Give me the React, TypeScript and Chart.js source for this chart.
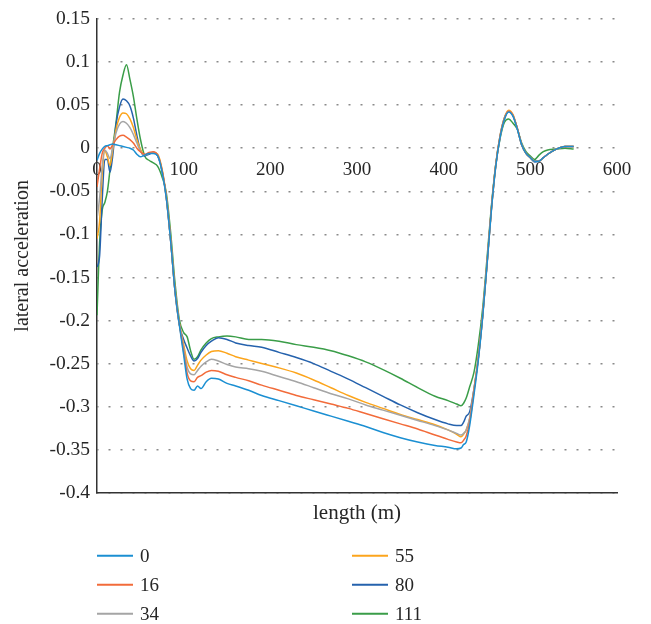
import React, { useEffect, useRef } from "react";
import { Chart, registerables } from "chart.js";

Chart.register(...registerables);

const lengths = [0, 3, 6, 9, 12, 15, 18, 22, 26, 30, 34, 38, 42, 46, 50, 55, 60, 65, 70, 75, 80, 85, 90, 95, 100, 104, 108, 112, 116, 120, 126, 132, 140, 150, 160, 175, 190, 210, 230, 250, 270, 290, 310, 330, 350, 370, 390, 405, 415, 420, 423, 426, 430, 435, 440, 445, 450, 455, 460, 465, 470, 475, 480, 485, 490, 495, 500, 505, 510, 515, 520, 530, 540, 550];

const seriesLabels = ["0", "16", "34", "55", "80", "111"];
const seriesColors = ["#1b8fd2", "#f26b3a", "#a5a5a5", "#fca51c", "#2562ad", "#3a9d48"];

const acc0 = [-0.014, -0.006, -0.001, 0.002, 0.003, 0.004, 0.005, 0.004, 0.003, 0.002, 0.001, 0.0, -0.002, -0.007, -0.010, -0.008, -0.006, -0.006, -0.009, -0.027, -0.058, -0.108, -0.166, -0.205, -0.240, -0.268, -0.279, -0.281, -0.276, -0.279, -0.271, -0.267, -0.268, -0.273, -0.276, -0.281, -0.287, -0.293, -0.299, -0.305, -0.311, -0.317, -0.323, -0.330, -0.336, -0.341, -0.345, -0.347, -0.349, -0.348, -0.344, -0.341, -0.322, -0.286, -0.246, -0.196, -0.136, -0.073, -0.022, 0.012, 0.033, 0.042, 0.037, 0.022, 0.004, -0.006, -0.011, -0.015, -0.015, -0.011, -0.007, -0.001, 0.002, 0.002];

const acc16 = [-0.045, -0.024, -0.006, 0.0, 0.003, -0.001, 0.004, 0.010, 0.014, 0.015, 0.013, 0.010, 0.006, 0.0, -0.004, -0.007, -0.005, -0.004, -0.008, -0.025, -0.057, -0.107, -0.165, -0.204, -0.236, -0.261, -0.270, -0.271, -0.266, -0.264, -0.260, -0.258, -0.259, -0.263, -0.266, -0.270, -0.275, -0.281, -0.287, -0.292, -0.297, -0.302, -0.308, -0.314, -0.320, -0.326, -0.333, -0.338, -0.341, -0.342, -0.339, -0.334, -0.318, -0.282, -0.244, -0.195, -0.135, -0.072, -0.021, 0.013, 0.034, 0.043, 0.038, 0.023, 0.004, -0.006, -0.011, -0.015, -0.015, -0.011, -0.007, -0.001, 0.002, 0.002];

const acc34 = [-0.082, -0.058, -0.020, -0.002, -0.006, -0.012, 0.0, 0.018, 0.028, 0.031, 0.029, 0.024, 0.016, 0.006, -0.003, -0.008, -0.006, -0.005, -0.008, -0.026, -0.057, -0.107, -0.165, -0.204, -0.232, -0.254, -0.262, -0.263, -0.258, -0.253, -0.248, -0.245, -0.247, -0.251, -0.254, -0.256, -0.259, -0.265, -0.271, -0.278, -0.285, -0.291, -0.298, -0.304, -0.310, -0.316, -0.322, -0.327, -0.331, -0.333, -0.331, -0.327, -0.313, -0.280, -0.243, -0.194, -0.134, -0.071, -0.021, 0.013, 0.034, 0.043, 0.038, 0.023, 0.004, -0.006, -0.011, -0.015, -0.015, -0.011, -0.007, -0.001, 0.002, 0.002];

const acc55 = [-0.105, -0.085, -0.030, -0.003, -0.010, -0.020, -0.003, 0.022, 0.036, 0.041, 0.040, 0.034, 0.024, 0.010, -0.001, -0.008, -0.006, -0.005, -0.007, -0.024, -0.056, -0.106, -0.164, -0.203, -0.228, -0.247, -0.256, -0.258, -0.252, -0.246, -0.240, -0.236, -0.235, -0.238, -0.242, -0.246, -0.250, -0.255, -0.261, -0.269, -0.278, -0.287, -0.295, -0.302, -0.309, -0.315, -0.321, -0.327, -0.332, -0.335, -0.332, -0.327, -0.314, -0.280, -0.243, -0.194, -0.134, -0.071, -0.020, 0.014, 0.035, 0.044, 0.039, 0.023, 0.004, -0.006, -0.011, -0.015, -0.015, -0.011, -0.007, -0.001, 0.002, 0.002];

const acc80 = [-0.138, -0.125, -0.060, -0.013, -0.013, -0.028, -0.010, 0.028, 0.048, 0.057, 0.055, 0.049, 0.035, 0.015, -0.002, -0.009, -0.007, -0.005, -0.009, -0.026, -0.058, -0.108, -0.166, -0.205, -0.222, -0.232, -0.241, -0.247, -0.244, -0.237, -0.229, -0.224, -0.220, -0.222, -0.226, -0.229, -0.231, -0.237, -0.243, -0.250, -0.259, -0.268, -0.278, -0.288, -0.298, -0.307, -0.315, -0.320, -0.322, -0.322, -0.318, -0.311, -0.306, -0.279, -0.243, -0.194, -0.134, -0.071, -0.020, 0.014, 0.035, 0.043, 0.038, 0.023, 0.004, -0.006, -0.011, -0.016, -0.015, -0.011, -0.007, -0.001, 0.002, 0.002];

const acc111 = [-0.194, -0.110, -0.072, -0.063, -0.050, -0.025, 0.0, 0.030, 0.065, 0.085, 0.097, 0.080, 0.060, 0.034, 0.011, -0.009, -0.014, -0.017, -0.021, -0.033, -0.052, -0.098, -0.156, -0.199, -0.214, -0.219, -0.235, -0.245, -0.242, -0.234, -0.226, -0.221, -0.219, -0.218, -0.219, -0.222, -0.222, -0.224, -0.228, -0.231, -0.235, -0.241, -0.248, -0.257, -0.267, -0.278, -0.288, -0.293, -0.297, -0.299, -0.296, -0.290, -0.277, -0.260, -0.228, -0.186, -0.128, -0.068, -0.020, 0.011, 0.030, 0.034, 0.029, 0.022, 0.006, -0.004, -0.009, -0.013, -0.008, -0.004, -0.002, -0.001, 0.0, -0.001];

const FONT_FAMILY = "'Liberation Serif', 'Times New Roman', serif";
const TEXT_COLOR = "#262626";

const legendPlugin = {
  id: "columnLegend",
  afterDraw(chart: any) {
    const { ctx, chartArea } = chart;
    ctx.save();
    ctx.font = `19px ${FONT_FAMILY}`;
    ctx.textBaseline = "middle";
    ctx.textAlign = "left";
    chart.data.datasets.forEach((ds: any, i: number) => {
      const col = Math.floor(i / 3);
      const row = i % 3;
      const x0 = chartArea.left + col * 255;
      const y = chartArea.bottom + 63 + row * 29;
      ctx.strokeStyle = ds.borderColor;
      ctx.lineWidth = 2;
      ctx.beginPath();
      ctx.moveTo(x0, y);
      ctx.lineTo(x0 + 36, y);
      ctx.stroke();
      ctx.fillStyle = TEXT_COLOR;
      ctx.fillText(ds.label, x0 + 43, y + 1);
    });
    ctx.restore();
  },
};

export default function App() {
  const ref = useRef<HTMLCanvasElement>(null);

  useEffect(() => {
    const series = [acc0, acc16, acc34, acc55, acc80, acc111];
    const chart = new Chart(ref.current as HTMLCanvasElement, {
      type: "line",
      data: {
        datasets: series.map((ys, i) => ({
          label: seriesLabels[i],
          data: lengths.map((x, j) => ({ x, y: ys[j] })),
          borderColor: seriesColors[i],
          backgroundColor: seriesColors[i],
          borderWidth: 1.5,
          pointRadius: 0,
          cubicInterpolationMode: "monotone",
          fill: false,
        })),
      },
      options: {
        responsive: false,
        animation: false,
        layout: { padding: { top: 19, right: 34, bottom: 98, left: 0 } },
        plugins: {
          legend: { display: false },
          tooltip: { enabled: false },
        },
        scales: {
          x: {
            type: "linear",
            position: { y: 0 } as any,
            min: 0,
            max: 600,
            ticks: {
              stepSize: 100,
              padding: 10,
              autoSkip: false,
              maxRotation: 0,
              font: { family: FONT_FAMILY, size: 19 },
              color: TEXT_COLOR,
            },
            grid: { display: false, drawTicks: false },
            border: { display: false },
          },
          xb: {
            type: "linear",
            axis: "x",
            position: "bottom",
            min: 0,
            max: 600,
            ticks: { display: false },
            grid: { display: false, drawTicks: false },
            border: { display: true, color: "#333333", width: 1.5 },
            title: {
              display: true,
              text: "length (m)",
              font: { family: FONT_FAMILY, size: 21 },
              color: TEXT_COLOR,
              padding: { top: 8, bottom: 0 },
            },
          },
          y: {
            type: "linear",
            min: -0.4,
            max: 0.15,
            afterFit: (scale: any) => {
              scale.width = 97;
            },
            ticks: {
              stepSize: 0.05,
              padding: 7,
              font: { family: FONT_FAMILY, size: 19.5 },
              color: TEXT_COLOR,
              callback: (v: any) => String(Math.round(Number(v) * 100) / 100),
            },
            grid: {
              color: "#8a8a8a",
              lineWidth: 1.5,
              drawTicks: false,
            },
            border: {
              display: true,
              color: "#333333",
              width: 1.5,
              dash: (c: any) => (c.type === "tick" ? [2, 10] : []),
              dashOffset: 1,
            },
            title: {
              display: true,
              text: "lateral acceleration",
              font: { family: FONT_FAMILY, size: 20 },
              color: TEXT_COLOR,
              padding: { top: 11, bottom: 0 },
            },
          },
        },
      } as any,
      plugins: [legendPlugin],
    });
    return () => chart.destroy();
  }, []);

  return (
    <div style={{ position: "absolute", left: 0, top: 0, width: 651, height: 624, background: "#fff" }}>
      <canvas ref={ref} width={651} height={624} style={{ display: "block" }} />
    </div>
  );
}
